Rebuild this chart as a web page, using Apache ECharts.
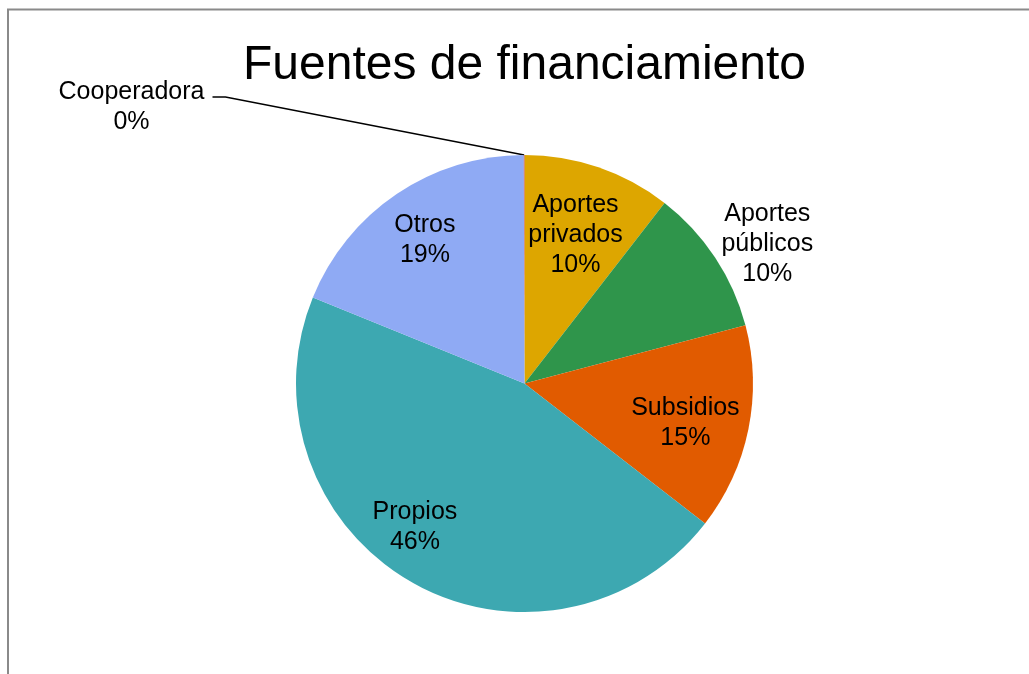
<!DOCTYPE html>
<html>
<head>
<meta charset="utf-8">
<script src="https://cdn.jsdelivr.net/npm/echarts@6/dist/echarts.min.js"></script>
<style>
html,body{margin:0;padding:0;background:#fff;}
#chart{width:1029px;height:674px;}
</style>
</head>
<body>
<div id="chart"></div>
<script>
const titleText = 'Fuentes de financiamiento';
const categories = ['Aportes privados', 'Aportes públicos', 'Subsidios', 'Propios', 'Otros', 'Cooperadora'];
const labelNames = ['Aportes\nprivados', 'Aportes\npúblicos', 'Subsidios', 'Propios', 'Otros', 'Cooperadora'];
const values = [10.5, 10.4, 14.6, 45.65, 18.8, 0.05];
const colors = ['#DDA600', '#2F954B', '#E15B00', '#3DA8B1', '#8FAAF4', '#C0504D'];
const labelOffsets = [[13, -37], [145, -75], [46, 16], [-51, 42], [-34, -46], [0, 0]];

const FONT = "'Liberation Sans', Arial, sans-serif";
const chart = echarts.init(document.getElementById('chart'), null, {renderer: 'canvas'});

const data = categories.map((c, i) => {
  const item = {
    name: c,
    value: values[i],
    itemStyle: {color: colors[i]},
    label: {offset: labelOffsets[i], formatter: labelNames[i] + '\n{d}%'}
  };
  if (i === 5) {
    item.label = {
      position: 'outside',
      formatter: labelNames[i] + '\n{d}%',
      align: 'center'
    };
    item.labelLine = {show: true, length: 10, length2: 12, smooth: false,
      lineStyle: {color: '#000', width: 1.3}};
  }
  return item;
});

const coopLabelPos = [131.5, 107];

chart.setOption({
  animation: false,
  backgroundColor: '#fff',
  title: {
    text: titleText,
    left: 243,
    top: 42,
    padding: 0,
    textStyle: {fontFamily: FONT, fontSize: 48, fontWeight: 'normal', color: '#000'}
  },
  graphic: [{
    type: 'rect',
    shape: {x: 8, y: 9.5, width: 1200, height: 1000},
    style: {fill: 'none', stroke: '#8a8a8a', lineWidth: 2},
    silent: true
  }],
  series: [{
    type: 'pie',
    center: [524.5, 383.5],
    radius: [0, 228.5],
    startAngle: 90,
    clockwise: true,
    avoidLabelOverlap: false,
    percentPrecision: 0,
    itemStyle: {borderWidth: 0},
    emphasis: {disabled: true},
    label: {
      show: true,
      position: 'inside',
      fontFamily: FONT,
      fontSize: 25,
      lineHeight: 30,
      color: '#000',
      align: 'center'
    },
    labelLine: {show: false},
    labelLayout: function (p) {
      if (p.dataIndex === 5) {
        const x = coopLabelPos[0], y = coopLabelPos[1];
        const anchor = p.labelLinePoints ? p.labelLinePoints[0] : [524.5, 155];
        return {
          x: x, y: y, align: 'center', verticalAlign: 'middle',
          labelLinePoints: [anchor, [x + 94, y - 10], [x + 81, y - 10]]
        };
      }
      return {};
    },
    data: data
  }]
});
</script>
</body>
</html>
